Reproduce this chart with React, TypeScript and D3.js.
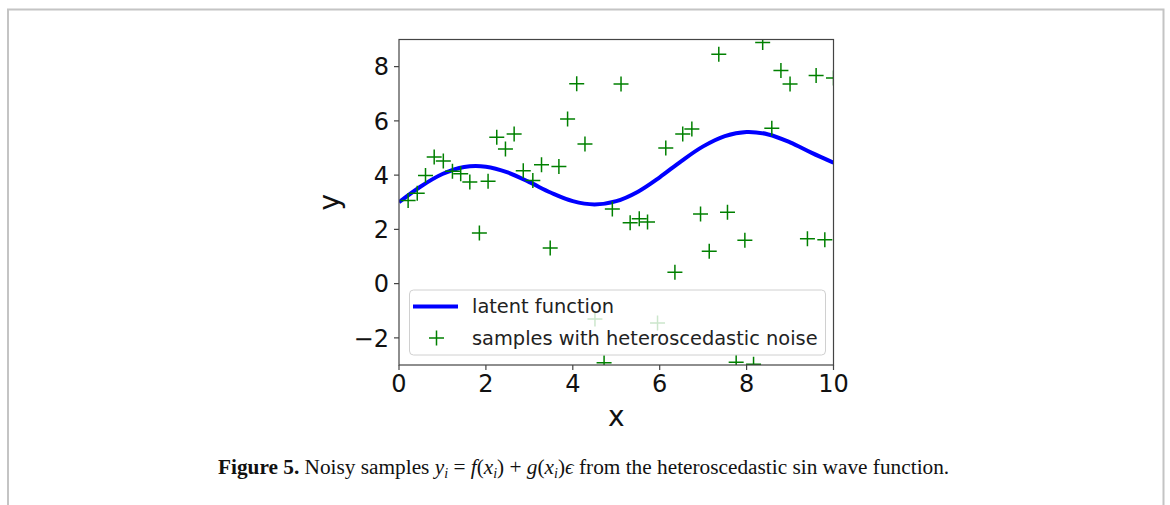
import * as d3 from "d3";
import React from "react";

// latent function, every 0.5 on x
const curveX = [0, 0.5, 1, 1.5, 2, 2.5, 3, 3.5, 4, 4.5, 5, 5.5, 6, 6.5, 7, 7.5, 8, 8.5, 9, 9.5, 10];
const curveY = [3.0, 3.58, 4.04, 4.3, 4.31, 4.1, 3.74, 3.35, 3.04, 2.92, 3.04, 3.39, 3.92, 4.52, 5.06, 5.44, 5.59, 5.5, 5.21, 4.82, 4.46];

// noisy samples
const sampleX = [
  0.21, 0.42, 0.61, 0.81, 1.02, 1.23, 1.42, 1.63, 1.85, 2.05, 2.25, 2.45, 2.65, 2.86, 3.08, 3.28,
  3.48, 3.68, 3.88, 4.09, 4.28, 4.51, 4.72, 4.91, 5.11, 5.32, 5.53, 5.72, 5.95, 6.14, 6.35, 6.53,
  6.74, 6.94, 7.14, 7.36, 7.56, 7.76, 7.96, 8.16, 8.37, 8.58, 8.79, 9.0, 9.4, 9.6, 9.8, 10.0,
];
const sampleY = [
  3.06, 3.33, 3.99, 4.67, 4.52, 4.14, 4.05, 3.75, 1.87, 3.77, 5.4, 4.96, 5.52, 4.16, 3.8, 4.38,
  1.31, 4.32, 6.07, 7.37, 5.15, -1.3, -2.92, 2.75, 7.36, 2.24, 2.39, 2.27, -1.45, 5.0, 0.42, 5.52,
  5.7, 2.57, 1.19, 8.46, 2.63, -2.9, 1.6, -2.97, 8.89, 5.73, 7.86, 7.36, 1.65, 7.67, 1.62, 7.58,
];

const xTicks = [0, 2, 4, 6, 8, 10];
const yTicks = [-2, 0, 2, 4, 6, 8];

const W = 1170;
const H = 505;
const LEFT = 399;
const RIGHT = 833.5;
const TOP = 39.5;
const BOTTOM = 365;
const SANS = "DejaVu Sans";
const SERIF = "Liberation Serif";

const Plus = ({ x, y, s = 7.5 }: { x: number; y: number; s?: number }) => (
  <path d={`M${x - s},${y}H${x + s}M${x},${y - s}V${y + s}`} stroke="#008000" strokeWidth={1.5} fill="none" />
);

export default function App() {
  const x = d3.scaleLinear().domain([0, 10]).range([LEFT, RIGHT]);
  const y = d3.scaleLinear().domain([-3, 9]).range([BOTTOM, TOP]);

  const line = d3
    .line<number>()
    .x((_, i) => x(curveX[i]))
    .y((d) => y(d))
    .curve(d3.curveCatmullRom);

  const fmt = (v: number) => (v < 0 ? "\u2212" + Math.abs(v) : String(v));
  const sub = 14;

  return (
    <svg width={W} height={H} style={{ position: "absolute", left: 0, top: 0 }}>
      <rect width={W} height={H} fill="white" />
      {/* page frame */}
      <path d={`M8,${H}V9.5H1163.5V${H}`} fill="none" stroke="#c4c4c4" strokeWidth={2} />

      <defs>
        <clipPath id="plot">
          <rect x={LEFT} y={TOP} width={RIGHT - LEFT} height={BOTTOM - TOP} />
        </clipPath>
      </defs>

      <g clipPath="url(#plot)">
        <path d={line(curveY) || ""} fill="none" stroke="#0000ff" strokeWidth={4} />
        {sampleX.map((sx, i) => (
          <Plus key={i} x={x(sx)} y={y(sampleY[i])} />
        ))}
      </g>

      {/* legend */}
      <g>
        <rect x={409.5} y={290} width={416} height={65} rx={4} fill="white" fillOpacity={0.8} stroke="#d0d0d0" strokeWidth={1} />
        <line x1={413} x2={458} y1={306.5} y2={306.5} stroke="#0000ff" strokeWidth={4} />
        <text x={472} y={306.5} dy="0.35em" fontFamily={SANS} fontSize={19.4} fill="#222">latent function</text>
        <Plus x={436.5} y={338} />
        <text x={472} y={338} dy="0.35em" fontFamily={SANS} fontSize={19.4} fill="#222">samples with heteroscedastic noise</text>
      </g>

      {/* spines */}
      <rect x={LEFT} y={TOP} width={RIGHT - LEFT} height={BOTTOM - TOP} fill="none" stroke="#444" strokeWidth={1.2} />

      {/* x axis */}
      {xTicks.map((t) => (
        <g key={t}>
          <line x1={x(t)} x2={x(t)} y1={BOTTOM} y2={BOTTOM + 5} stroke="#444" strokeWidth={1.2} />
          <text x={x(t)} y={BOTTOM + 27} textAnchor="middle" fontFamily={SANS} fontSize={24} fill="#111">{fmt(t)}</text>
        </g>
      ))}
      <text x={(LEFT + RIGHT) / 2} y={426} textAnchor="middle" fontFamily={SANS} fontSize={28} fill="#111">x</text>

      {/* y axis */}
      {yTicks.map((t) => (
        <g key={t}>
          <line x1={LEFT - 5} x2={LEFT} y1={y(t)} y2={y(t)} stroke="#444" strokeWidth={1.2} />
          <text x={389} y={y(t)} dy="0.36em" textAnchor="end" fontFamily={SANS} fontSize={24} fill="#111">{fmt(t)}</text>
        </g>
      ))}
      <text transform={`translate(339,${(TOP + BOTTOM) / 2}) rotate(-90)`} textAnchor="middle" fontFamily={SANS} fontSize={28} fill="#111">y</text>

      {/* caption */}
      <text x={218} y={474} fontFamily={SERIF} fontSize={21.3} fill="#111">
        <tspan fontWeight="bold">Figure 5.</tspan>
        <tspan> Noisy samples </tspan>
        <tspan fontStyle="italic">y</tspan>
        <tspan fontStyle="italic" fontSize={sub} dy={4}>i</tspan>
        <tspan dy={-4}>{" = "}</tspan>
        <tspan fontStyle="italic">f</tspan>
        <tspan>(</tspan>
        <tspan fontStyle="italic">x</tspan>
        <tspan fontStyle="italic" fontSize={sub} dy={4}>i</tspan>
        <tspan dy={-4}>{") + "}</tspan>
        <tspan fontStyle="italic">g</tspan>
        <tspan>(</tspan>
        <tspan fontStyle="italic">x</tspan>
        <tspan fontStyle="italic" fontSize={sub} dy={4}>i</tspan>
        <tspan dy={-4}>)</tspan>
        <tspan fontStyle="italic">ϵ</tspan>
        <tspan> from the heteroscedastic sin wave function.</tspan>
      </text>
    </svg>
  );
}
